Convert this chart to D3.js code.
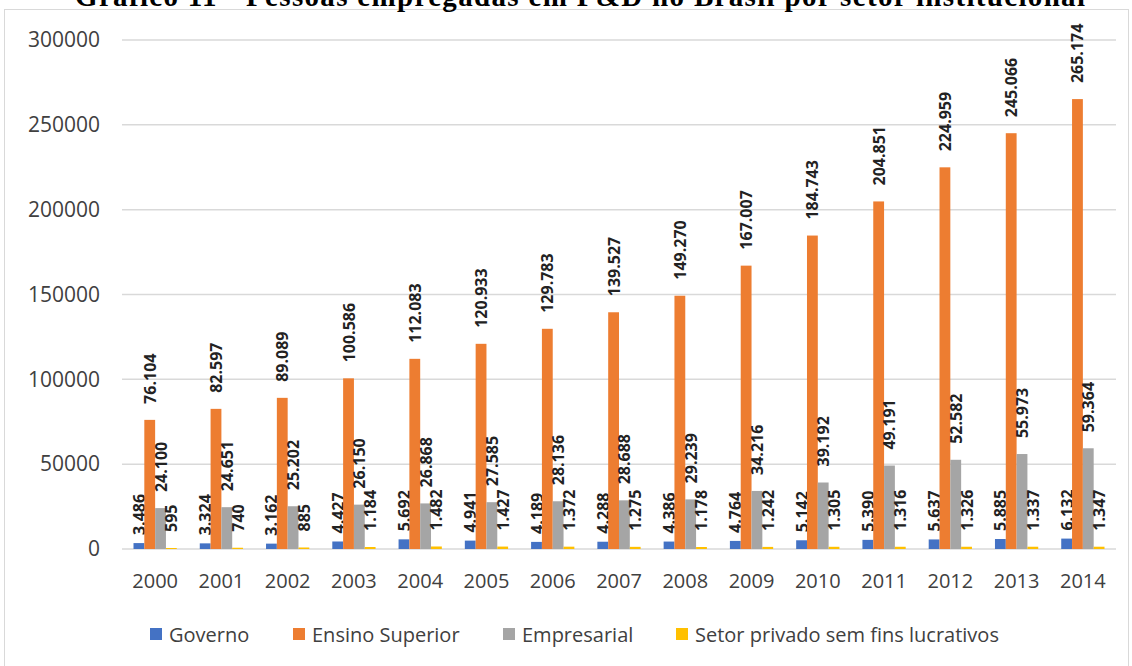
<!DOCTYPE html>
<html>
<head>
<meta charset="utf-8">
<script src="https://cdn.jsdelivr.net/npm/d3@7"></script>
<style>
body { margin: 0; background: #fff; }
svg { display: block; font-family: "Open Sans", sans-serif; }
</style>
</head>
<body>
<div id="chart"></div>
<script>
var years = ["2000","2001","2002","2003","2004","2005","2006","2007","2008","2009","2010","2011","2012","2013","2014"];
var seriesNames = ["Governo", "Ensino Superior", "Empresarial", "Setor privado sem fins lucrativos"];
var governo = [3486, 3324, 3162, 4427, 5692, 4941, 4189, 4288, 4386, 4764, 5142, 5390, 5637, 5885, 6132];
var ensino = [76104, 82597, 89089, 100586, 112083, 120933, 129783, 139527, 149270, 167007, 184743, 204851, 224959, 245066, 265174];
var empresarial = [24100, 24651, 25202, 26150, 26868, 27585, 28136, 28688, 29239, 34216, 39192, 49191, 52582, 55973, 59364];
var privado = [595, 740, 885, 1184, 1482, 1427, 1372, 1275, 1178, 1242, 1305, 1316, 1326, 1337, 1347];
var yTicks = [0, 50000, 100000, 150000, 200000, 250000, 300000];

var colors = ["#4472C4", "#ED7D31", "#A5A5A5", "#FFC000"];
var labelGap = [8, 16, 16, 16];
var allSeries = [governo, ensino, empresarial, privado];

var width = 1132, height = 666;
var svg = d3.select("#chart").append("svg")
	.attr("width", width)
	.attr("height", height);

// chart border
svg.append("rect")
	.attr("x", 4.5).attr("y", 9.5)
	.attr("width", 1124).attr("height", 670)
	.attr("fill", "none")
	.attr("stroke", "#d9d9d9");

// title (clipped at the top in the original)
svg.append("text")
	.attr("x", 580).attr("y", 6)
	.attr("text-anchor", "middle")
	.attr("font-family", "Liberation Serif, serif")
	.attr("font-weight", "bold")
	.attr("font-size", 29)
	.attr("textLength", 1010)
	.attr("fill", "#000")
	.text("Gráfico 11 - Pessoas empregadas em P&D no Brasil por setor institucional");

var x = d3.scaleBand().domain(years).range([122, 1116]);
var xs = d3.scaleBand().domain(d3.range(4)).range([11.5, x.bandwidth() - 11.5]);
var y = d3.scaleLinear().domain([0, 300000]).range([549, 40]);

var ptFormat = d3.formatLocale({decimal: ",", thousands: ".", grouping: [3], currency: ["R$", ""]}).format(",d");

// gridlines
svg.append("g")
	.selectAll("line")
	.data(yTicks)
	.enter()
	.append("line")
	.attr("x1", 122).attr("x2", 1116)
	.attr("y1", d => y(d)).attr("y2", d => y(d))
	.attr("stroke", "#d9d9d9")
	.attr("stroke-width", 1.5);

// y axis labels
var yAxis = svg.append("g")
	.attr("transform", "translate(100,0)")
	.call(d3.axisLeft(y).tickValues(yTicks).tickSize(0).tickPadding(0).tickFormat(d3.format("d")));
yAxis.select(".domain").remove();
yAxis.selectAll("text")
	.attr("font-family", "Open Sans, sans-serif")
	.attr("font-size", 21)
	.attr("fill", "#404040");

// x axis labels
var xAxis = svg.append("g")
	.attr("transform", "translate(0,574)")
	.call(d3.axisBottom(x).tickSize(0).tickPadding(0));
xAxis.select(".domain").remove();
xAxis.selectAll("text")
	.attr("font-family", "Open Sans, sans-serif")
	.attr("font-size", 20)
	.attr("fill", "#404040");

// bars
var groups = svg.append("g")
	.selectAll("g")
	.data(years)
	.enter()
	.append("g")
	.attr("transform", d => "translate(" + x(d) + ",0)");

allSeries.forEach(function(s, si) {
	groups.append("rect")
		.attr("x", xs(si))
		.attr("width", xs.bandwidth())
		.attr("y", (d, i) => y(s[i]))
		.attr("height", (d, i) => y(0) - y(s[i]))
		.attr("fill", colors[si]);

	groups.append("text")
		.attr("transform", (d, i) => "translate(" + (xs(si) + xs.bandwidth() / 2) + "," + (y(s[i]) - labelGap[si]) + ") rotate(-90)")
		.attr("dominant-baseline", "central")
		.attr("text-anchor", "start")
		.attr("font-family", "Open Sans, sans-serif")
		.attr("font-weight", "bold")
		.attr("font-size", 16)
		.attr("fill", "#222")
		.text((d, i) => ptFormat(s[i]));
});

// legend
var legendX = [150, 293, 503, 676];
var legend = svg.append("g")
	.selectAll("g")
	.data(seriesNames)
	.enter()
	.append("g")
	.attr("transform", (d, i) => "translate(" + legendX[i] + ",634)");
legend.append("rect")
	.attr("x", 0).attr("y", -6)
	.attr("width", 12).attr("height", 12)
	.attr("fill", (d, i) => colors[i]);
legend.append("text")
	.attr("x", 19).attr("y", 0)
	.attr("dominant-baseline", "central")
	.attr("font-family", "Open Sans, sans-serif")
	.attr("font-size", 20)
	.attr("fill", "#404040")
	.text(d => d);
</script>
</body>
</html>
